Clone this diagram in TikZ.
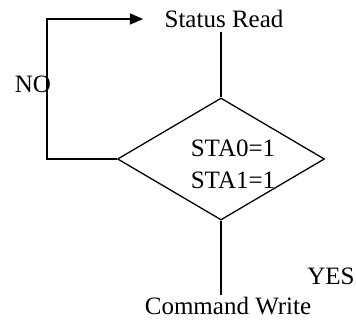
\documentclass[tikz,border=0pt]{standalone}
\usepackage{fontspec}
\setmainfont{Liberation Serif}
\usetikzlibrary{shapes.geometric,arrows.meta}

\begin{document}
\begin{tikzpicture}[%
    x=1pt, y=-1pt,              % Work in picture units, top-down
    >={Triangle[length=13pt,width=11pt]}, % Filled arrow heads
    line width=1.3pt,
    font=\fontsize{25}{32}\selectfont,
    ]
% -------------------------------------------------
% Box and connector styles
\tikzset{
  base/.style={inner sep=1pt, align=center},
  txt/.style={base},
  decision/.style={draw, diamond, inner sep=0pt, minimum width=207pt, minimum height=122pt},
  flow/.style={draw},
  loop/.style={->, draw, shorten >=20pt}
}
\useasboundingbox (0,0) rectangle (356,320);
% -------------------------------------------------
% Place the nodes
\node [txt] (read) at (224,19) {Status Read};
\node [decision] (chk) at (221,159) {};
\node [txt] (cond) at (233,164) {STA0=1\\STA1=1};
\node [txt] (cmd) at (228,306) {Command Write};
\node [txt] (no) at (33,84) {NO};
\node [txt] (yes) at (331,276) {YES};

\draw[flow, shorten <=3pt] (read.south -| chk.north) -- (chk.north);	% Status Read, check
\draw[flow] (chk.south) -- (chk.south |- cmd.north);	% check, Command Write
\draw[loop] (chk.west) -- ++(-70,0) |- (read.west);	% NO, back to read

% -------------------------------------------------
\end{tikzpicture}
\end{document}
